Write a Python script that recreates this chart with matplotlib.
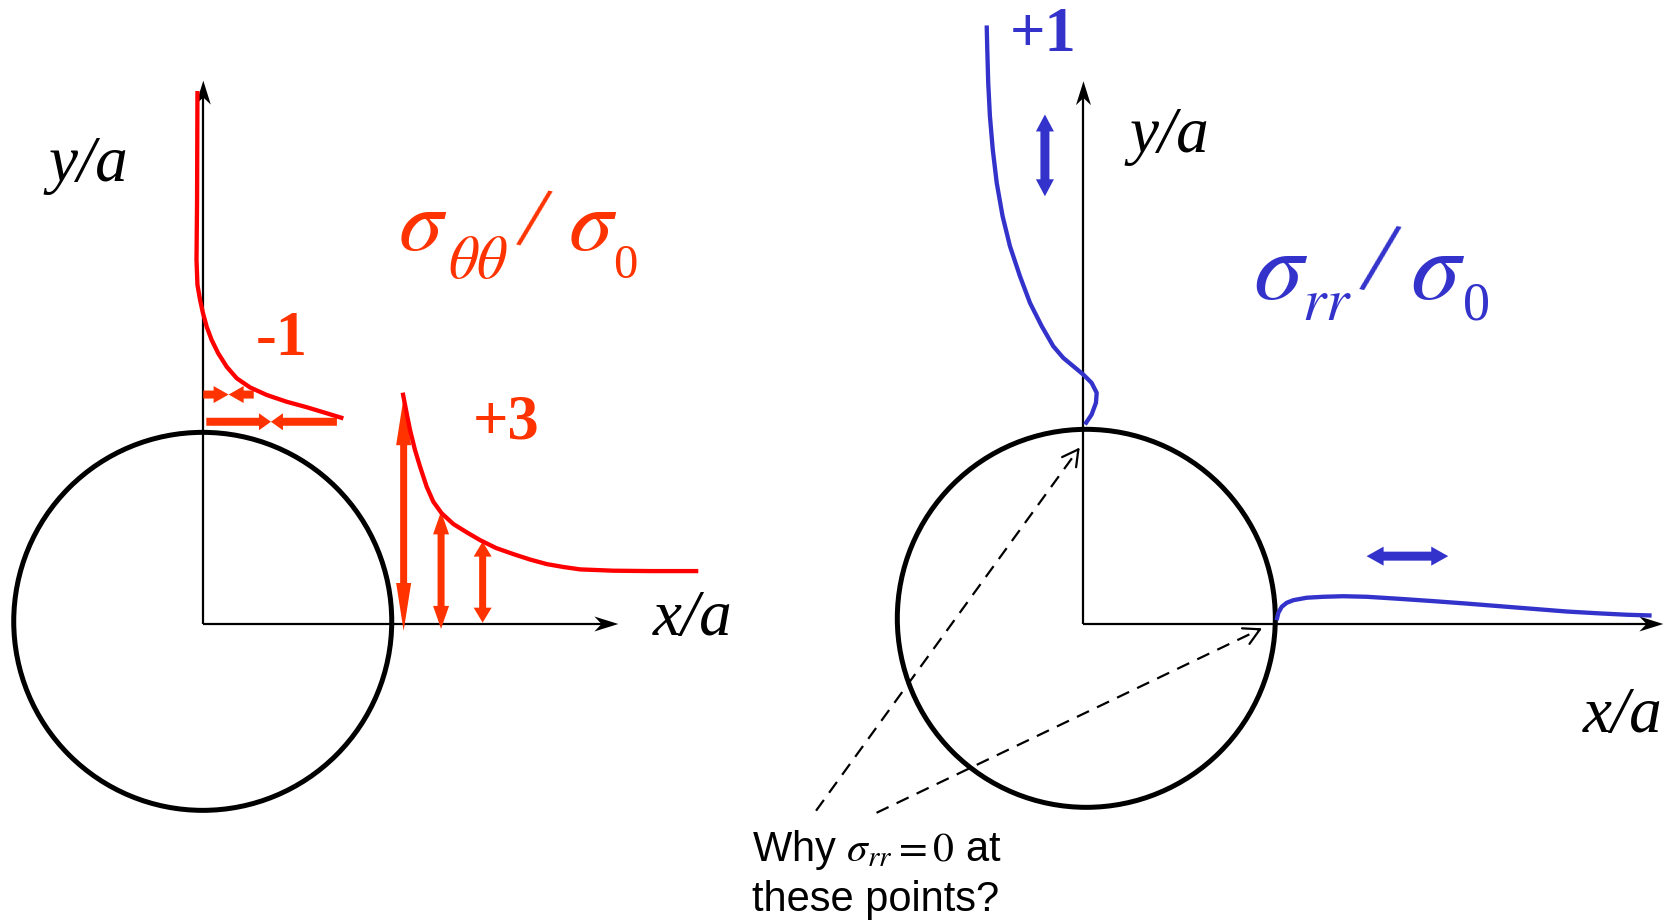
import numpy as np
import matplotlib.pyplot as plt
from matplotlib.patches import Circle, Polygon

plt.rcParams['mathtext.fontset'] = 'stix'

# lengths are in units of the hole radius a
PX = 1 / 189.0           # one output pixel in those units
XR = 4.657               # x position of the right-hand origin

# hoop stress sigma_tt/sigma_0 (left): position along the axis, drawn offset
tt_y_pos = [2.820, 2.243, 1.926, 1.794, 1.714, 1.646, 1.573, 1.503, 1.432,
            1.361, 1.300, 1.252, 1.212, 1.176, 1.147, 1.115, 1.088]
tt_y_off = [-0.031, -0.033, -0.036, -0.031, -0.017, -0.002, 0.018, 0.044,
            0.079, 0.124, 0.177, 0.247, 0.335, 0.441, 0.547, 0.653, 0.741]
tt_x_pos = [1.055, 1.076, 1.094, 1.120, 1.147, 1.182, 1.217, 1.261, 1.323,
            1.394, 1.464, 1.549, 1.640, 1.729, 1.817, 1.903, 1.993, 2.169,
            2.364, 2.619]
tt_x_off = [1.224, 1.115, 1.026, 0.921, 0.832, 0.726, 0.647, 0.586, 0.529,
            0.485, 0.444, 0.402, 0.370, 0.341, 0.317, 0.302, 0.289, 0.282,
            0.280, 0.280]

# compressive arrows along the y axis (pairs meeting at tt_c_mid)
tt_c_y = [1.214, 1.070]
tt_c_x0 = [0.0, 0.016]
tt_c_mid = [0.134, 0.358]
tt_c_x1 = [0.267, 0.707]
# tensile arrows along the x axis
tt_t_x = [1.060, 1.258, 1.478]
tt_t_y0 = [-0.037, -0.026, 0.007]
tt_t_y1 = [1.200, 0.596, 0.436]

# radial stress sigma_rr/sigma_0 (right)
rr_y_pos = [3.167, 3.040, 2.863, 2.687, 2.511, 2.334, 2.158, 1.999, 1.840,
            1.699, 1.576, 1.470, 1.408, 1.364, 1.320, 1.276, 1.223, 1.170,
            1.108, 1.056]
rr_y_off = [-0.512, -0.509, -0.504, -0.495, -0.480, -0.459, -0.428, -0.389,
            -0.336, -0.283, -0.221, -0.160, -0.107, -0.054, -0.001, 0.043,
            0.070, 0.066, 0.043, 0.008]
rr_x_pos = [1.022, 1.031, 1.049, 1.075, 1.110, 1.181, 1.269, 1.375, 1.499,
            1.675, 1.851, 2.028, 2.204, 2.381, 2.557, 2.733, 2.874, 3.006]
rr_x_off = [0.020, 0.059, 0.091, 0.112, 0.126, 0.139, 0.144, 0.147, 0.144,
            0.133, 0.121, 0.108, 0.094, 0.080, 0.066, 0.056, 0.049, 0.045]

RED = '#FF0000'
ORANGE = '#FF3300'
BLUE = '#3333CC'
SERIF = 'Liberation Serif'


def arrow_outline(x0, y0, x1, y1, shaft, head_w, head_l, both=False):
    p0, p1 = np.array([x0, y0]), np.array([x1, y1])
    d = (p1 - p0) / np.hypot(*(p1 - p0))
    n = np.array([-d[1], d[0]])
    s, h = shaft / 2, head_w / 2
    b1 = p1 - d * head_l
    tip_end = [b1 + n * s, b1 + n * h, p1, b1 - n * h, b1 - n * s]
    if both:
        b0 = p0 + d * head_l
        tail_end = [b0 - n * s, b0 - n * h, p0, b0 + n * h, b0 + n * s]
    else:
        tail_end = [p0 - n * s, p0 + n * s]
    return np.array(tail_end + tip_end)


def fat_arrow(ax, x0, y0, x1, y1, color, shaft, head_w, head_l, both=False):
    pts = arrow_outline(x0, y0, x1, y1, shaft * PX, head_w * PX, head_l * PX, both)
    ax.add_patch(Polygon(pts, closed=True, fc=color, ec='none', zorder=4))


def axis_arrow(ax, x0, y0, x1, y1):
    p0, p1 = np.array([x0, y0]), np.array([x1, y1])
    d = (p1 - p0) / np.hypot(*(p1 - p0))
    n = np.array([-d[1], d[0]])
    L, W = 24 * PX, 15 * PX
    stop = p1 - d * 0.7 * L
    ax.plot([p0[0], stop[0]], [p0[1], stop[1]], color='black', lw=1.6,
            solid_capstyle='butt', zorder=3)
    head = [p1, p1 - d * L + n * W / 2, p1 - d * 0.7 * L, p1 - d * L - n * W / 2]
    ax.add_patch(Polygon(head, closed=True, fc='black', ec='none', zorder=3))


def dashed_arrow(ax, x0, y0, x1, y1):
    ax.plot([x0, x1], [y0, y1], color='black', lw=1.6, dashes=(6, 4), zorder=3)
    ang = np.arctan2(y1 - y0, x1 - x0)
    L = 18 * PX
    for da in (0.5, -0.5):
        ax.plot([x1, x1 - L * np.cos(ang + da)], [y1, y1 - L * np.sin(ang + da)],
                color='black', lw=1.6, solid_capstyle='round', zorder=3)


def ratio_label(ax, x0, y0, color, parts):
    # sigma_ij / sigma_0 set piece by piece: (dx, dy, text, size, rotation)
    for dx, dy, txt, size, rot in parts:
        ax.text(x0 + dx, y0 + dy, txt, color=color, fontsize=size, rotation=rot,
                ha='left' if rot == 0 else 'center',
                va='baseline' if rot == 0 else 'center',
                family=SERIF)


fig = plt.figure(figsize=(16.66, 9.24), dpi=100)
ax = fig.add_axes([0, 0, 1, 1])
ax.set_xlim(-203.3 * PX, (1666 - 203.3) * PX)
ax.set_ylim(-(924 - 624) * PX, 624 * PX)
ax.axis('off')

# ---- left: sigma_theta theta ----
ax.add_patch(Circle((-0.003, 0.014), 1.0, fill=False, ec='black', lw=3.6, zorder=2))
axis_arrow(ax, 0, 0, 0, 2.875)
axis_arrow(ax, 0, 0, 2.196, 0)

ax.plot(tt_y_off, tt_y_pos, color=RED, lw=3.1, solid_capstyle='butt', zorder=5)
ax.plot(tt_x_pos, tt_x_off, color=RED, lw=3.1, solid_capstyle='butt', zorder=5)

for y, x0, xm, x1, hl in zip(tt_c_y, tt_c_x0, tt_c_mid, tt_c_x1, [15, 12]):
    fat_arrow(ax, x0, y, xm, y, ORANGE, 8, 17, hl)
    fat_arrow(ax, x1, y, xm, y, ORANGE, 8, 17, hl)
for x, y0, y1, hw, hl in zip(tt_t_x, tt_t_y0, tt_t_y1, [15, 16, 18], [48, 23, 15]):
    fat_arrow(ax, x, y0, x, y1, ORANGE, 7, hw, hl, both=True)

ax.text(-0.610, 2.344, 'y/a', family=SERIF, style='italic', fontsize=47,
        ha='center', va='baseline')
ax.text(2.587, -0.060, 'x/a', family=SERIF, style='italic', fontsize=47,
        ha='center', va='baseline')

ratio_label(ax, 1.031, 1.979, ORANGE, [
    (0.0, 0.0, r'$\sigma$', 64, 0),
    (0.265, -0.148, r'$\theta\theta$', 43, 0),
    (0.712, 0.135, '/', 64, -12),
    (0.899, 0.0, r'$\sigma$', 64, 0),
    (1.140, -0.148, '0', 35, 0),
])

ax.text(0.413, 1.423, '-1', family=SERIF, weight='bold', color=ORANGE,
        fontsize=45, ha='center', va='baseline')
ax.text(1.602, 0.984, '+3', family=SERIF, weight='bold', color=ORANGE,
        fontsize=45, ha='center', va='baseline')

# ---- right: sigma_rr ----
ax.add_patch(Circle((XR + 0.015, 0.030), 1.0, fill=False, ec='black', lw=3.6, zorder=2))
axis_arrow(ax, XR, 0, XR, 2.872)
axis_arrow(ax, XR, 0, XR + 3.068, 0)

ax.plot(XR + np.array(rr_y_off), rr_y_pos, color=BLUE, lw=3.1,
        solid_capstyle='butt', zorder=5)
ax.plot(XR + np.array(rr_x_pos), rr_x_off, color=BLUE, lw=3.1,
        solid_capstyle='butt', zorder=5)

fat_arrow(ax, XR - 0.204, 2.263, XR - 0.204, 2.696, BLUE, 9, 18, 17, both=True)
fat_arrow(ax, XR + 1.498, 0.359, XR + 1.930, 0.359, BLUE, 9, 19, 17, both=True)

dashed_arrow(ax, XR - 1.415, -0.988, XR - 0.027, 0.924)
dashed_arrow(ax, XR - 1.095, -0.999, XR + 0.934, -0.028)

ax.text(XR + 0.452, 2.497, 'y/a', family=SERIF, style='italic', fontsize=47,
        ha='center', va='baseline')
ax.text(XR + 2.855, -0.574, 'x/a', family=SERIF, style='italic', fontsize=47,
        ha='center', va='baseline')

ratio_label(ax, XR + 0.897, 1.717, BLUE, [
    (0.0, 0.0, r'$\sigma$', 72, 0),
    (0.260, -0.106, r'$rr$', 43, 0),
    (0.661, 0.175, '/', 74, -12),
    (0.831, 0.0, r'$\sigma$', 72, 0),
    (1.112, -0.106, '0', 39, 0),
])

ax.text(XR - 0.214, 3.031, '+1', family=SERIF, weight='bold', color=BLUE,
        fontsize=45, ha='center', va='baseline')

ax.text(XR - 1.756, -1.255, r'Why $\sigma_{rr} = 0$ at', family='Liberation Sans',
        fontsize=30, ha='left', va='baseline')
ax.text(XR - 1.756, -1.520, 'these points?', family='Liberation Sans',
        fontsize=30, ha='left', va='baseline')

fig.savefig('out.png', dpi=100)
